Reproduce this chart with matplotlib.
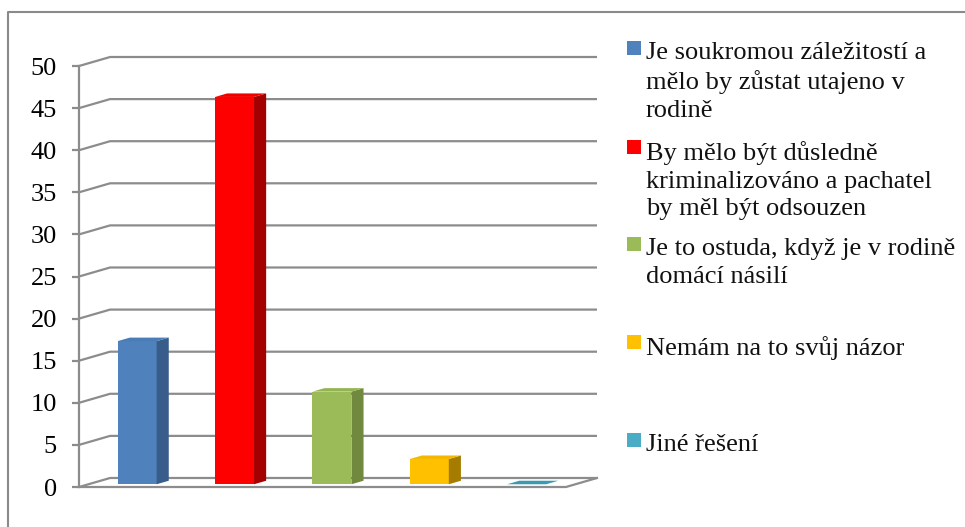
import matplotlib
matplotlib.use("Agg")
import matplotlib.pyplot as plt
from matplotlib.patches import Polygon, Rectangle
from matplotlib.lines import Line2D

categories = [
    "Je soukromou záležitostí a\nmělo by zůstat utajeno v\nrodině",
    "By mělo být důsledně\nkriminalizováno a pachatel\nby měl být odsouzen",
    "Je to ostuda, když je v rodině\ndomácí násilí",
    "Nemám na to svůj názor",
    "Jiné řešení",
]
values = [17, 46, 11, 3, 0]
front_colors = ["#4F81BD", "#FF0000", "#9BBB59", "#FFC000", "#4BACC6"]
side_colors = ["#385D8A", "#A50000", "#71893F", "#A67C00", "#31859C"]
top_colors = ["#4A7CB8", "#F20000", "#94B454", "#F5B800", "#3A9AB2"]
yticks = [0, 5, 10, 15, 20, 25, 30, 35, 40, 45, 50]

W, H = 965, 527
fig = plt.figure(figsize=(W / 100, H / 100), dpi=100)
fig.patch.set_facecolor("white")

grid_c = "#8C8C8C"
font = "Liberation Serif"

# depth offsets (data units)
ddx = 0.319
ddy = 1.07
ymax = 50

left_px, right_px = 79, 597
bot_px, top_px = 487, 57
ax = fig.add_axes([left_px / W, (H - bot_px) / H, (right_px - left_px) / W, (bot_px - top_px) / H])
n = len(values)
ax.set_xlim(0, n + ddx)
ax.set_ylim(0, ymax + ddy)
ax.set_facecolor("none")

# gridlines with side wall
for v in yticks:
    ax.plot([0, ddx, n + ddx], [v, v + ddy, v + ddy], color=grid_c, lw=1.6, zorder=1, clip_on=False,
            solid_capstyle="butt")
# floor front and right edges
ax.plot([0, n, n + ddx], [0, 0, ddy], color=grid_c, lw=1.6, zorder=1, clip_on=False)

for s in ["top", "right", "bottom"]:
    ax.spines[s].set_visible(False)
ax.spines["left"].set_bounds(0, ymax)
ax.spines["left"].set_color(grid_c)
ax.spines["left"].set_linewidth(1.6)
ax.set_xticks([])
ax.set_yticks(yticks)
ax.tick_params(axis="y", length=5, width=1.6, color=grid_c, pad=11, labelsize=19)
for lab in ax.get_yticklabels():
    lab.set_fontfamily(font)

# 3D bars
t0 = 0.305   # depth position of bar front
bd = 0.39    # bar depth fraction
bw = 0.40    # bar width
xs = [i + 0.5 + t0 * ddx for i in range(n)]
base = t0 * ddy
ax.bar(xs, values, width=bw, bottom=base, color=front_colors, zorder=3, linewidth=0)
for x, v, sc, tc in zip(xs, values, side_colors, top_colors):
    xl, xr = x - bw / 2, x + bw / 2
    ox, oy = bd * ddx, bd * ddy
    if v > 0:
        side = Polygon([(xr, base), (xr + ox, base + oy), (xr + ox, base + v + oy), (xr, base + v)],
                       closed=True, facecolor=sc, edgecolor="none", zorder=3)
        ax.add_patch(side)
    top = Polygon([(xl, base + v), (xl + ox, base + v + oy), (xr + ox, base + v + oy), (xr, base + v)],
                  closed=True, facecolor=tc, edgecolor="none", zorder=4)
    ax.add_patch(top)

# legend (manual, Excel-style spacing)
leg_y = [48, 147, 244, 342, 440]
sq = 14
for lab, c, yc in zip(categories, front_colors, leg_y):
    fig.patches.append(Rectangle((627 / W, (H - yc - sq / 2) / H), sq / W, sq / H,
                                 transform=fig.transFigure, facecolor=c, edgecolor="none"))
    fig.text(646 / W, (H - yc + 6) / H, lab, fontsize=19, family=font, va="top", ha="left",
             linespacing=1.33, color="#111111")

# outer frame (top and left visible)
fig.lines.append(Line2D([8 / W, 8 / W, 1.0], [0.0, (H - 12) / H, (H - 12) / H], transform=fig.transFigure,
                        color="#8A8A8A", lw=1.5))

fig.savefig("out.png", dpi=100, facecolor="white")
